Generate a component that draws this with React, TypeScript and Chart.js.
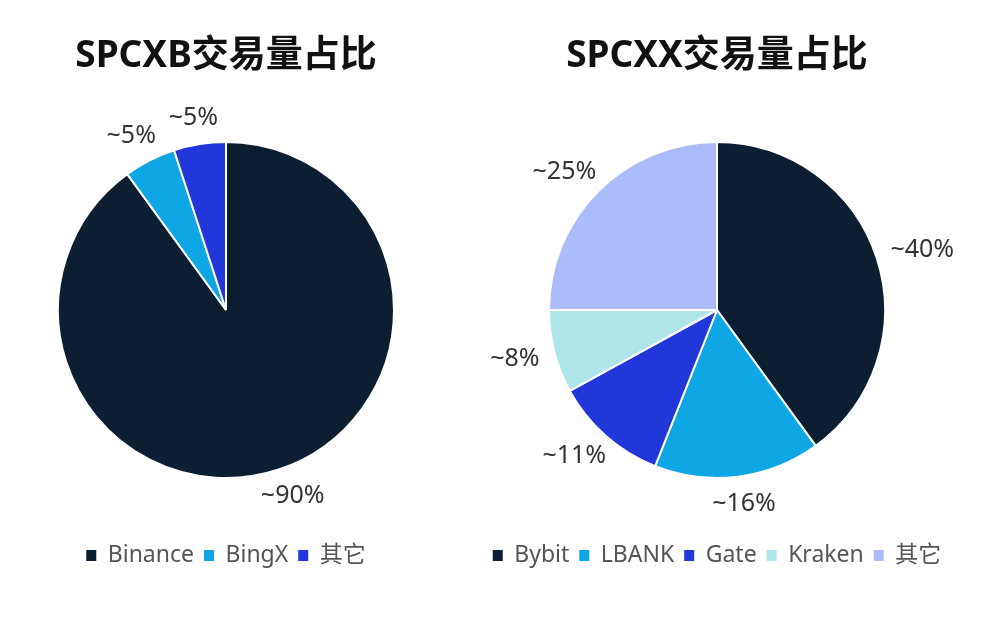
import React, { useEffect, useRef } from "react";
import { Chart, registerables } from "chart.js";

Chart.register(...registerables);

const leftTitle = "SPCXB交易量占比";
const leftLabels = ["Binance", "BingX", "其它"];
const leftValues = [90, 5, 5];
const leftColors = ["#0b1e32", "#0fa6e6", "#2237d9"];

const rightTitle = "SPCXX交易量占比";
const rightLabels = ["Bybit", "LBANK", "Gate", "Kraken", "其它"];
const rightValues = [40, 16, 11, 8, 25];
const rightColors = ["#0b1e32", "#0fa6e6", "#2237d9", "#aee4ea", "#aabdfa"];

const FONT = "'Noto Sans', 'Noto Sans CJK SC', sans-serif";

const outsideLabels = {
  id: "outsideLabels",
  afterDatasetsDraw(chart: any) {
    const ctx = chart.ctx;
    const meta = chart.getDatasetMeta(0);
    const data = chart.data.datasets[0].data;
    ctx.save();
    ctx.font = `25px ${FONT}`;
    ctx.fillStyle = "#333333";
    ctx.textAlign = "center";
    ctx.textBaseline = "middle";
    meta.data.forEach((arc: any, i: number) => {
      const { x, y, startAngle, endAngle, outerRadius } = arc.getProps(
        ["x", "y", "startAngle", "endAngle", "outerRadius"],
        true
      );
      const mid = (startAngle + endAngle) / 2;
      const dx = Math.cos(mid);
      const dy = Math.sin(mid);
      const text = "~" + data[i] + "%";
      const w = ctx.measureText(text).width;
      const px = x + (outerRadius + 16) * dx + (dx * w) / 2;
      const py = y + (outerRadius + 16) * dy + dy * 11;
      ctx.fillText(text, px, py);
    });
    ctx.restore();
  },
};

function PieChart(props: {
  title: string;
  labels: string[];
  values: number[];
  colors: string[];
}) {
  const ref = useRef<HTMLCanvasElement>(null);
  useEffect(() => {
    if (!ref.current) return;
    const baseGen = (Chart as any).overrides.pie.plugins.legend.labels.generateLabels;
    const chart = new Chart(ref.current, {
      type: "pie",
      data: {
        labels: props.labels,
        datasets: [
          {
            data: props.values,
            backgroundColor: props.colors,
            borderColor: "#ffffff",
            borderWidth: 2,
            radius: 168,
          } as any,
        ],
      },
      options: {
        animation: false,
        responsive: true,
        maintainAspectRatio: false,
        layout: { padding: { top: 0, bottom: 51, left: 0, right: 0 } },
        plugins: {
          tooltip: { enabled: false },
          title: {
            display: true,
            text: props.title,
            color: "#111111",
            font: { size: 37, weight: "bold", family: FONT, lineHeight: 1.2 },
            padding: { top: 34.3, bottom: 7.3 },
          },
          legend: {
            display: true,
            position: "bottom",
            labels: {
              boxWidth: 10,
              boxHeight: 11,
              padding: 10,
              color: "#555555",
              font: { size: 23, family: FONT },
              generateLabels: (c: any) =>
                baseGen(c).map((l: any) => ({
                  ...l,
                  lineWidth: 0,
                  strokeStyle: l.fillStyle,
                })),
            },
          },
        },
      },
      plugins: [outsideLabels],
    });
    return () => chart.destroy();
  }, []);
  return <canvas ref={ref} />;
}

export default function App() {
  return (
    <div
      style={{
        position: "absolute",
        left: 0,
        top: 0,
        width: 1000,
        height: 628,
        background: "#ffffff",
      }}
    >
      <div style={{ position: "absolute", left: 0, top: 0, width: 452, height: 628 }}>
        <PieChart title={leftTitle} labels={leftLabels} values={leftValues} colors={leftColors} />
      </div>
      <div style={{ position: "absolute", left: 450, top: 0, width: 534, height: 628 }}>
        <PieChart title={rightTitle} labels={rightLabels} values={rightValues} colors={rightColors} />
      </div>
    </div>
  );
}
